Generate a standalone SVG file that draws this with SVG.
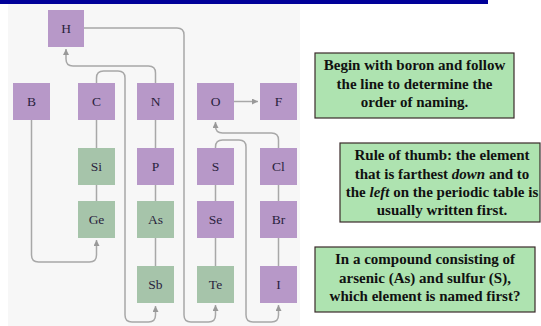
<svg xmlns="http://www.w3.org/2000/svg" width="541" height="326" viewBox="0 0 541 326">
<defs>
<style>
.bg{fill:#f7f7f7}
.p{fill:#b798c8}
.g{fill:#a6c4aa}
.el{font-family:"Liberation Serif","Times New Roman",serif;font-size:13.5px;fill:#2a1f3d;text-anchor:middle}
.ln{fill:none;stroke:#a8a8a8;stroke-width:1.5}
.box{fill:#aee3b0;stroke:#3a2a2a;stroke-width:1.2}
.tx{font-family:"Liberation Serif","Times New Roman",serif;font-size:15px;font-weight:bold;fill:#111;text-anchor:middle}
</style>
<marker id="ah" viewBox="0 0 10 10" refX="10" refY="5" markerWidth="4" markerHeight="4" orient="auto" markerUnits="strokeWidth">
<path d="M0,0 L10,5 L0,10 Z" fill="#999"/>
</marker>
</defs>
<rect x="0" y="0" width="541" height="326" fill="#ffffff"/>
<rect class="bg" x="8" y="4" width="292" height="322"/>
<rect x="0" y="0" width="488" height="4" fill="#000099"/>

<g id="connectors">
<path class="ln" d="M31.5,120 V255 Q31.5,262 38.5,262 H89.5 Q96.5,262 96.5,255 V240" marker-end="url(#ah)"/>
<path class="ln" d="M96.5,201 V185 M96.5,148 V120"/>
<path class="ln" d="M96.5,83 V78 Q96.5,71 103.5,71 H118 Q125,71 125,78 V315 Q125,322 132,322 H148.5 Q155.5,322 155.5,315 V306" marker-end="url(#ah)"/>
<path class="ln" d="M155.5,266 V238 M155.5,201 V185 M155.5,148 V120"/>
<path class="ln" d="M155.5,83 V73 Q155.5,66 148.5,66 H73 Q66,66 66,59 V49" marker-end="url(#ah)"/>
<path class="ln" d="M84,28 H177 Q184,28 184,35 V315 Q184,322 191,322 H208.5 Q215.5,322 215.5,315 V305" marker-end="url(#ah)"/>
<path class="ln" d="M215.5,266 V238 M215.5,201 V185"/>
<path class="ln" d="M215.5,148 V147 Q215.5,140 222.5,140 H239 Q246,140 246,147 V315 Q246,322 253,322 H271.5 Q278.5,322 278.5,315 V305" marker-end="url(#ah)"/>
<path class="ln" d="M278.5,266 V238 M278.5,201 V185"/>
<path class="ln" d="M278.5,148 V140 Q278.5,133 271.5,133 H222.5 Q215.5,133 215.5,126 V122" marker-end="url(#ah)"/>
<path class="ln" d="M234,101.5 H258" marker-end="url(#ah)"/>
</g>

<g id="node-H"><rect class="p" x="48" y="10" width="36" height="37"/><text class="el" x="66" y="33">H</text></g>
<g id="node-B"><rect class="p" x="13" y="83" width="37" height="37"/><text class="el" x="31.5" y="106">B</text></g>
<g id="node-C"><rect class="p" x="78" y="83" width="37" height="37"/><text class="el" x="96.5" y="106">C</text></g>
<g id="node-N"><rect class="p" x="137" y="83" width="37" height="37"/><text class="el" x="155.5" y="106">N</text></g>
<g id="node-O"><rect class="p" x="197" y="83" width="37" height="37"/><text class="el" x="215.5" y="106">O</text></g>
<g id="node-F"><rect class="p" x="260" y="83" width="37" height="37"/><text class="el" x="278.5" y="106">F</text></g>
<g id="node-Si"><rect class="g" x="78" y="148" width="37" height="37"/><text class="el" x="96.5" y="171">Si</text></g>
<g id="node-P"><rect class="p" x="137" y="148" width="37" height="37"/><text class="el" x="155.5" y="171">P</text></g>
<g id="node-S"><rect class="p" x="197" y="148" width="37" height="37"/><text class="el" x="215.5" y="171">S</text></g>
<g id="node-Cl"><rect class="p" x="260" y="148" width="37" height="37"/><text class="el" x="278.5" y="171">Cl</text></g>
<g id="node-Ge"><rect class="g" x="78" y="201" width="37" height="37"/><text class="el" x="96.5" y="224">Ge</text></g>
<g id="node-As"><rect class="g" x="137" y="201" width="37" height="37"/><text class="el" x="155.5" y="224">As</text></g>
<g id="node-Se"><rect class="p" x="197" y="201" width="37" height="37"/><text class="el" x="215.5" y="224">Se</text></g>
<g id="node-Br"><rect class="p" x="260" y="201" width="37" height="37"/><text class="el" x="278.5" y="224">Br</text></g>
<g id="node-Sb"><rect class="g" x="137" y="266" width="37" height="37"/><text class="el" x="155.5" y="289">Sb</text></g>
<g id="node-Te"><rect class="g" x="197" y="266" width="37" height="37"/><text class="el" x="215.5" y="289">Te</text></g>
<g id="node-I"><rect class="p" x="260" y="266" width="37" height="37"/><text class="el" x="278.5" y="289">I</text></g>

<g id="note-begin">
<rect class="box" x="315" y="53" width="199" height="65"/>
<text class="tx" x="414.5" y="70">Begin with boron and follow</text>
<text class="tx" x="414.5" y="88.5">the line to determine the</text>
<text class="tx" x="414.5" y="106.5">order of naming.</text>
</g>
<g id="note-rule">
<rect class="box" x="340" y="143" width="200" height="79"/>
<text class="tx" x="442" y="160">Rule of thumb: the element</text>
<text class="tx" x="442" y="178.5">that is farthest <tspan font-style="italic">down</tspan> and to</text>
<text class="tx" x="442" y="196.5">the <tspan font-style="italic">left</tspan> on the periodic table is</text>
<text class="tx" x="442" y="215">usually written first.</text>
</g>
<g id="note-question">
<rect class="box" x="315" y="247" width="220" height="65"/>
<text class="tx" x="425" y="264">In a compound consisting of</text>
<text class="tx" x="425" y="282.5">arsenic (As) and sulfur (S),</text>
<text class="tx" x="425" y="300.5">which element is named first?</text>
</g>
</svg>
